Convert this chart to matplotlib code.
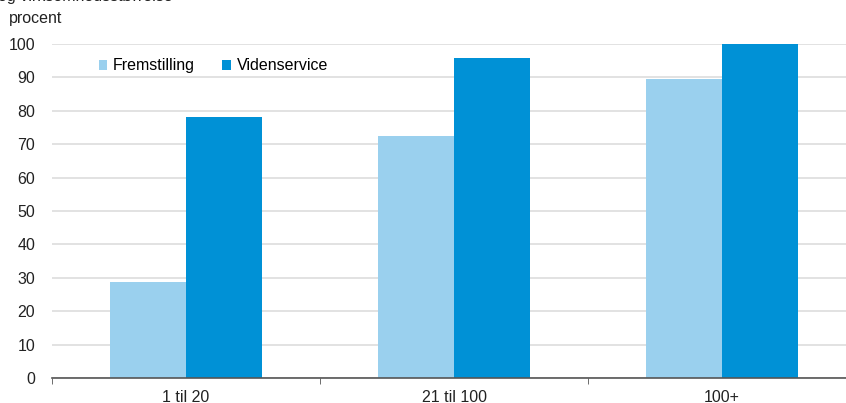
import matplotlib.pyplot as plt
import numpy as np

plt.rcParams['font.family'] = ['Liberation Sans', 'DejaVu Sans']

groups = ['1 til 20', '21 til 100', '100+']
fremstilling = [28.8, 72.5, 89.5]
videnservice = [78.1, 95.8, 100.0]
yticks = [0, 10, 20, 30, 40, 50, 60, 70, 80, 90, 100]

light = '#9ad0ee'
dark = '#0091d6'

fig = plt.figure(figsize=(8.46, 4.03), dpi=100)
ax = fig.add_axes([52 / 846, 1 - 378 / 403, 804 / 846, 334 / 403])

x = np.arange(len(groups))
w = 0.285
ax.bar(x - w / 2, fremstilling, w, color=light, label='Fremstilling', zorder=3)
ax.bar(x + w / 2, videnservice, w, color=dark, label='Videnservice', zorder=3)

ax.set_xlim(-0.5, 2.5)
ax.set_ylim(0, 100)
ax.set_yticks(yticks)
ax.set_xticks(x)
ax.set_xticklabels(groups, fontsize=11.5, color='#222222')
ax.set_xticks([-0.5, 0.5, 1.5, 2.5], minor=True)
ax.tick_params(axis='x', which='major', length=0, pad=9)
ax.tick_params(axis='x', which='minor', length=4, color='#555555', direction='out')
ax.tick_params(axis='y', length=0, pad=12, labelsize=11.5, labelcolor='#222222')

ax.yaxis.grid(True, color='#dddddd', linewidth=1.2, zorder=0)
for s in ['top', 'right', 'left']:
    ax.spines[s].set_visible(False)
ax.spines['bottom'].set_color('#555555')
ax.spines['bottom'].set_linewidth(1.2)
ax.spines['bottom'].set_zorder(4)

ax.legend(loc='upper left', bbox_to_anchor=(0.04, 1.0), ncol=2, frameon=False,
          fontsize=11.5, handlelength=0.55, handleheight=0.55, handletextpad=0.35,
          columnspacing=1.7)

fig.text(9 / 846, 1 - 18 / 403, 'procent', fontsize=11.5, va='center', ha='left',
         color='#222222')
# title line is cut off at the top of the picture
fig.text(-2 / 846, 1 - 1 / 403, 'og virksomhedsstørrelse', fontsize=11.5,
         va='baseline', ha='left', color='#222222')

fig.savefig('out.png', dpi=100)
